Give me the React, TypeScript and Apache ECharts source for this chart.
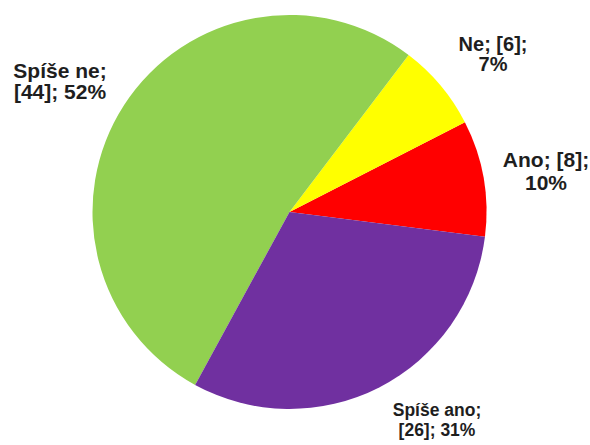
import React, { useEffect, useRef } from "react";
import * as echarts from "echarts";

const categories = ["Ano", "Ne", "Spíše ne", "Spíše ano"];
const values = [8, 6, 44, 26];
const colors = ["#FF0000", "#FFFF00", "#92D050", "#7030A0"];

// label layout only: block centres, font sizes, line heights
const labelPos: [number, number][] = [
  [546, 171],
  [493, 54],
  [60, 81],
  [437, 420],
];
const labelFont = [21, 20, 21, 17.5];
const labelLine = [23, 20, 21, 20];

export default function App() {
  const ref = useRef<HTMLDivElement>(null);
  useEffect(() => {
    document.body.style.margin = "0";
    if (!ref.current) return;
    const chart = echarts.init(ref.current, null, { renderer: "svg" });
    chart.setOption({
      animation: false,
      backgroundColor: "#ffffff",
      series: [
        {
          type: "pie",
          center: [289.5, 212],
          radius: 197,
          startAngle: -7.2,
          clockwise: false,
          percentPrecision: 0,
          avoidLabelOverlap: false,
          data: categories.map((name, i) => ({
            name,
            value: values[i],
            itemStyle: { color: colors[i] },
            label: { fontSize: labelFont[i], lineHeight: labelLine[i] },
          })),
          itemStyle: { borderWidth: 0 },
          label: {
            show: true,
            position: "outside",
            fontFamily: "Liberation Sans, Arial, sans-serif",
            fontWeight: "bold",
            color: "#1e1e1e",
            align: "center",
            formatter: (p: any) =>
              p.name.length > 4
                ? `${p.name};\n[${p.value}]; ${p.percent}%`
                : `${p.name}; [${p.value}];\n${p.percent}%`,
          },
          labelLine: { show: false },
          labelLayout: (params: any) => ({
            x: labelPos[params.dataIndex][0],
            y: labelPos[params.dataIndex][1],
            align: "center",
            verticalAlign: "middle",
          }),
        },
      ],
    });
    return () => chart.dispose();
  }, []);
  return <div ref={ref} style={{ width: 590, height: 445 }} />;
}
